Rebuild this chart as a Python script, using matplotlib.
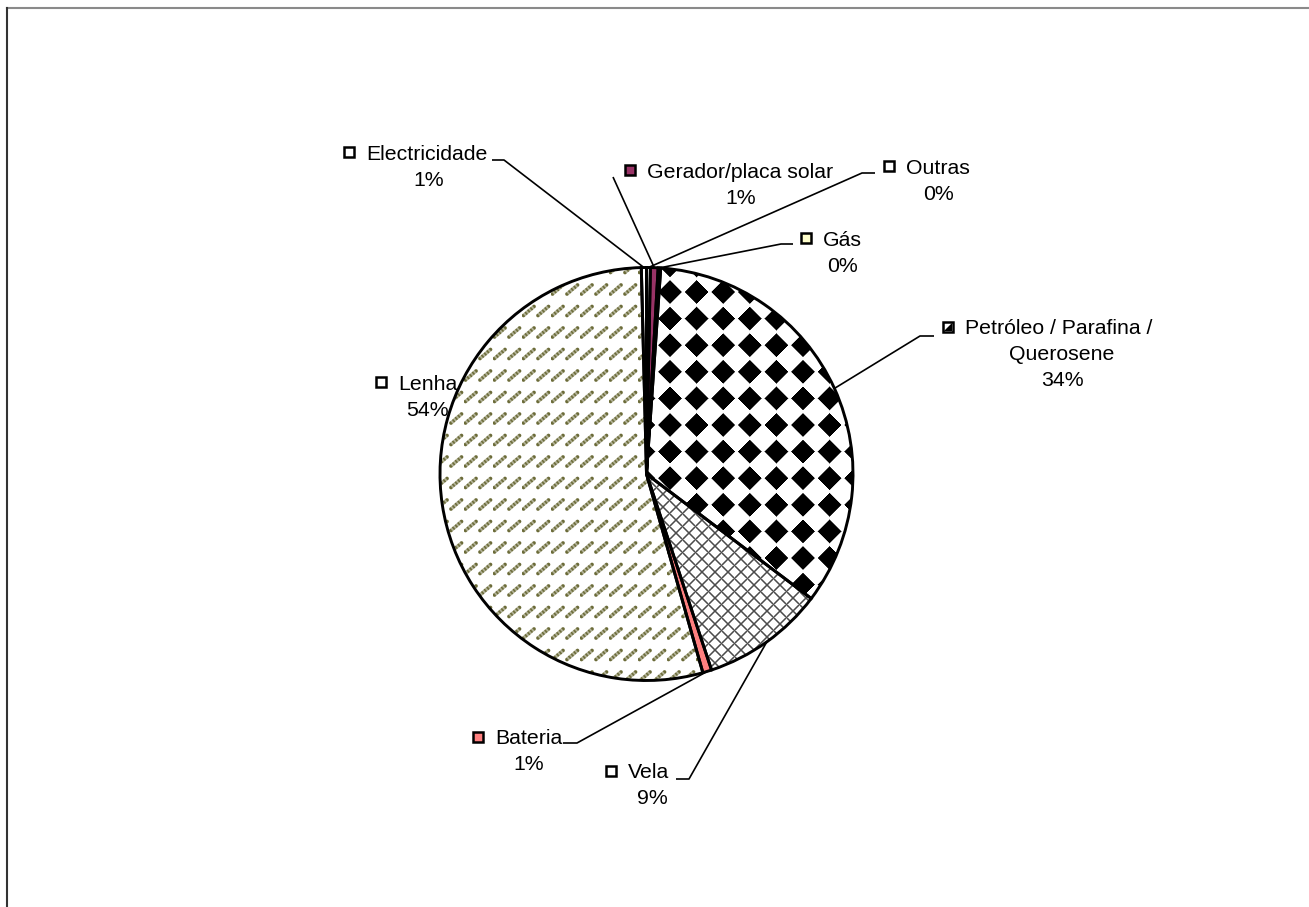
import numpy as np
import matplotlib
matplotlib.use('Agg')
import matplotlib.pyplot as plt
from matplotlib.patches import Rectangle, PathPatch, Polygon

# data (clockwise from 12 o'clock)
categories = ['Outras', 'Gerador/placa solar', 'Gás', 'Petróleo / Parafina /\nQuerosene',
              'Vela', 'Bateria', 'Lenha', 'Electricidade']
values = [0.3, 0.6, 0.2, 34.2, 9.6, 0.7, 54.0, 0.4]
pct_labels = ['0%', '1%', '0%', '34%', '9%', '1%', '54%', '1%']

# styles
colors = ['white', '#993366', '#FFFFCC', 'white', 'white', '#FF8080', 'white', 'white']
patterns = [None, None, None, 'diamond', 'cross', None, 'dash', None]

# layout in pixels (x from left, y from top): legend key, centre of text block
key_pos = [(889, 166), (630, 170), (806, 238), (948, 327),
           (611, 771), (478, 737), (381, 382), (349, 152)]
text_center = [938, 741, 842, 1062, 652, 529, 427, 429]
leader = [[(875, 173), (862, 173)], [(613, 177)], [(793, 244), (781, 244)],
          [(934, 336), (920, 336)], [(676, 779), (689, 779)], [(563, 743), (577, 743)],
          None, [(492, 160), (504, 160)]]

W, H = 1309, 907
CX, CY, R = 646.5, 474, 206.5
FS = 15.3
plt.rcParams['font.family'] = ['Liberation Sans', 'DejaVu Sans']


def P(x, y):
    return x, H - y


def textures():
    yy, xx = np.mgrid[0:H, 0:W] + 0.5
    out = {}
    # black diamonds
    p = 26.6
    dx = ((xx - 670 + p / 2) % p) - p / 2
    dy = ((yy - 292 + p / 2) % p) - p / 2
    a = np.clip(12.4 - (np.abs(dx) + np.abs(dy)), 0, 1)
    t = np.zeros((H, W, 4))
    t[..., 3] = a
    out['diamond'] = t
    # grey cross hatch
    p = 13.0
    d1 = (xx + yy) % p
    d1 = np.minimum(d1, p - d1) / np.sqrt(2)
    d2 = (xx - yy) % p
    d2 = np.minimum(d2, p - d2) / np.sqrt(2)
    a = np.clip(1.3 - np.minimum(d1, d2), 0, 1)
    t = np.zeros((H, W, 4))
    t[..., :3] = 0.3
    t[..., 3] = a
    out['cross'] = t
    # olive short dotted dashes
    px, py = 14.5, 21.5
    u = xx % px
    v = yy % py
    ax_, ay_, bx_, by_ = 1.5, 14.5, 12.0, 5.5
    sx, sy = bx_ - ax_, by_ - ay_
    s = np.clip(((u - ax_) * sx + (v - ay_) * sy) / (sx * sx + sy * sy), 0, 1)
    dist = np.hypot(u - (ax_ + s * sx), v - (ay_ + s * sy))
    dots = 0.75 + 0.25 * np.cos(2 * np.pi * s * 4)
    a = np.clip(2.3 - dist, 0, 1) * dots
    t = np.zeros((H, W, 4))
    t[..., 0] = 0.42
    t[..., 1] = 0.42
    t[..., 2] = 0.22
    t[..., 3] = a
    out['dash'] = t
    return out


fig = plt.figure(figsize=(W / 100, H / 100), dpi=100)
ax = fig.add_axes([0, 0, 1, 1])

wedges, _ = ax.pie(values, colors=colors, startangle=90, counterclock=False,
                   center=P(CX, CY), radius=R,
                   wedgeprops=dict(edgecolor='none', linewidth=0, zorder=1))

tex = textures()
for w, pat in zip(wedges, patterns):
    if pat is None:
        continue
    im = ax.imshow(tex[pat], extent=(0, W, 0, H), origin='upper',
                   interpolation='nearest', aspect='auto', zorder=2)
    im.set_clip_path(w)

for w in wedges:
    ax.add_patch(PathPatch(w.get_path(), transform=ax.transData, fill=False,
                           edgecolor='black', linewidth=2.1, zorder=3))

for i, w in enumerate(wedges):
    mid = np.deg2rad((w.theta1 + w.theta2) / 2)
    ex, ey = CX + R * np.cos(mid), CY - R * np.sin(mid)
    if leader[i] is not None:
        pts = leader[i] + [(ex, ey)]
        ax.plot([p[0] for p in pts], [H - p[1] for p in pts], color='black',
                linewidth=1.2, zorder=4, solid_capstyle='butt')

    kx, ky = key_pos[i]
    ax.add_patch(Rectangle(P(kx - 5, ky + 5), 10, 10, facecolor=colors[i],
                           edgecolor='black', linewidth=1.8, zorder=5))
    if patterns[i] == 'diamond':
        ax.add_patch(Polygon([P(kx + 4, ky - 4), P(kx + 4, ky + 4), P(kx - 4, ky + 4)],
                             closed=True, facecolor='black', edgecolor='none', zorder=6))

    lines = categories[i].split('\n')
    ax.text(*P(kx + 17, ky + 2), lines[0], ha='left', va='center', fontsize=FS, zorder=6)
    yline = ky + 2
    for extra in lines[1:] + [pct_labels[i]]:
        yline += 26
        ax.text(*P(text_center[i], yline), extra, ha='center', va='center',
                fontsize=FS, zorder=6)

# outer frame of the chart area
ax.plot([7, W], [H - 8, H - 8], color='#8a8a8a', linewidth=1.5, zorder=6)
ax.plot([7, 7], [H - 8, 0], color='#333333', linewidth=1.5, zorder=6)

ax.set_xlim(0, W)
ax.set_ylim(0, H)
ax.set_aspect('auto')
ax.axis('off')

fig.savefig('out.png', dpi=100)
